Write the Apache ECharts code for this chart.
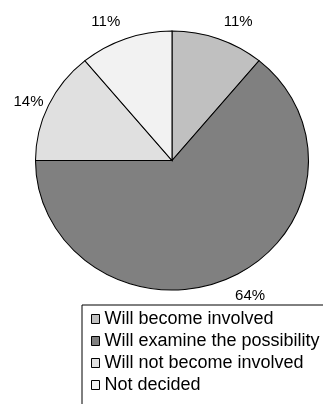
<!DOCTYPE html>
<html>
<head>
<meta charset="utf-8">
<script src="https://cdn.jsdelivr.net/npm/echarts@6/dist/echarts.min.js"></script>
<style>
  html, body { margin: 0; padding: 0; background: #fff; overflow: hidden; }
  #chart { width: 323px; height: 404px; }
</style>
</head>
<body>
<div id="chart"></div>
<script>
// Survey answers, in percent, clockwise from 12 o'clock
const categories = [
  'Will become involved',
  'Will examine the possibility',
  'Will not become involved',
  'Not decided'
];
const shares = [11, 64, 14, 11];
const sliceColors = ['#c0c0c0', '#808080', '#e0e0e0', '#f2f2f2'];

// Elliptical pie geometry (pixels)
const PIE = { cx: 172, cy: 160.5, rx: 136.5, ry: 129.5 };
const FONT = '"Liberation Sans", Arial, sans-serif';

const total = shares.reduce((a, b) => a + b, 0);

function sliceRenderer(index) {
  return function (params, api) {
    const value = api.value(0);
    let before = 0;
    for (let k = 0; k < index; k++) before += shares[k];
    const start = -Math.PI / 2 + (before / total) * Math.PI * 2;
    const end = start + (value / total) * Math.PI * 2;
    const mid = (start + end) / 2;
    const c = Math.cos(mid), s = Math.sin(mid);
    // point on the rim at the middle of the slice
    const px = PIE.cx + PIE.rx * c;
    const py = PIE.cy + PIE.ry * s;
    const lx = px + Math.sign(c) * 20;
    const ly = py + Math.sign(s) * (s > 0 ? 22 : 19) * s * s;
    return {
      type: 'group',
      children: [
        {
          type: 'sector',
          shape: { cx: PIE.cx, cy: PIE.cy, r: PIE.ry, r0: 0, startAngle: start, endAngle: end, clockwise: true },
          originX: PIE.cx,
          originY: PIE.cy,
          scaleX: PIE.rx / PIE.ry,
          style: { fill: api.visual('color'), stroke: '#000', lineWidth: 1 }
        },
        {
          type: 'text',
          x: lx,
          y: ly,
          style: {
            text: value + '%',
            fill: '#000',
            font: '15px ' + FONT,
            align: 'center',
            verticalAlign: 'middle'
          }
        }
      ]
    };
  };
}

const chart = echarts.init(document.getElementById('chart'), null, { renderer: 'canvas' });
chart.setOption({
  animation: false,
  backgroundColor: '#fff',
  legend: {
    orient: 'vertical',
    left: 82,
    top: 305,
    height: 150,
    padding: [4, 60, 20, 9],
    itemGap: 2,
    itemWidth: 8,
    itemHeight: 9,
    icon: 'rect',
    borderColor: '#000',
    borderWidth: 1,
    backgroundColor: '#fff',
    selectedMode: false,
    itemStyle: { borderColor: '#000', borderWidth: 1 },
    textStyle: { fontFamily: FONT, fontSize: 18, color: '#000', lineHeight: 20 },
    data: categories
  },
  series: categories.map((name, i) => ({
    type: 'custom',
    name: name,
    coordinateSystem: 'none',
    itemStyle: { color: sliceColors[i] },
    data: [shares[i]],
    renderItem: sliceRenderer(i)
  }))
});
</script>
</body>
</html>
